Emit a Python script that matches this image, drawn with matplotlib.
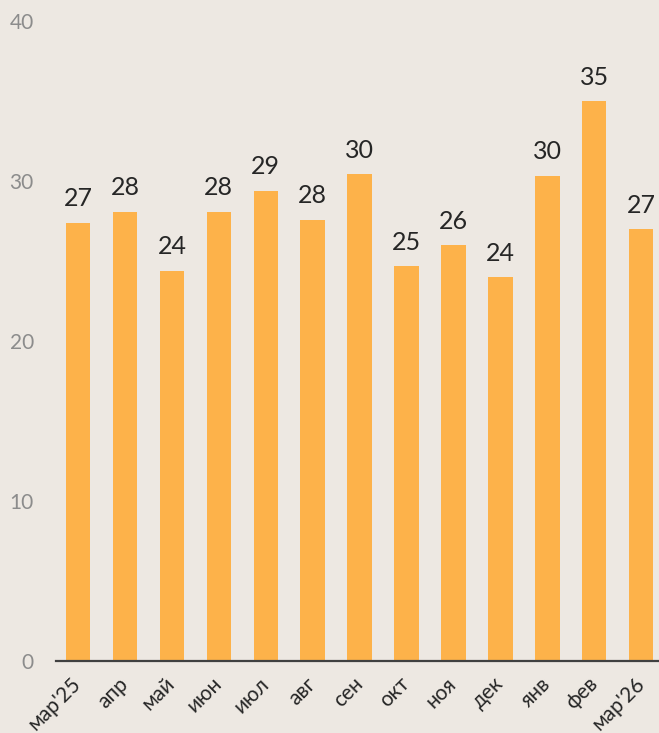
import matplotlib.pyplot as plt

# Monthly values, Mar 2025 - Mar 2026
months = ["мар'25", 'апр', 'май', 'июн', 'июл', 'авг', 'сен',
          'окт', 'ноя', 'дек', 'янв', 'фев', "мар'26"]
values = [27.4, 28.1, 24.4, 28.1, 29.4, 27.6, 30.45,
          24.7, 26.0, 24.0, 30.35, 35.0, 27.0]
y_ticks = [0, 10, 20, 30, 40]

bg = '#EDE8E2'
bar_color = '#FDB24A'
fonts = ['Lato', 'DejaVu Sans']

plt.rcParams['font.family'] = fonts

fig = plt.figure(figsize=(6.59, 7.33), dpi=100, facecolor=bg)
ax = fig.add_axes([0.085, 0.098, 0.915, 0.873], facecolor=bg)

x = range(len(months))
bars = ax.bar(x, values, width=0.52, color=bar_color, zorder=2)

# value labels above each bar
for b, v in zip(bars, values):
    ax.annotate(f'{v:.0f}', (b.get_x() + b.get_width() / 2, v),
                xytext=(0, 9), textcoords='offset points',
                ha='center', va='bottom', fontsize=18, color='#262626')

ax.set_xlim(-0.47, 12.38)
ax.set_ylim(0, 40)
ax.set_yticks(y_ticks)
ax.tick_params(axis='y', length=0, pad=16, labelsize=15, labelcolor='#8C8C8C')
ax.set_xticks(list(x))
ax.set_xticklabels(months, rotation=45, ha='right', va='center',
                   rotation_mode='anchor', fontsize=15, color='#262626')
ax.tick_params(axis='x', length=0, pad=14)

for s in ['top', 'right', 'left']:
    ax.spines[s].set_visible(False)
ax.spines['bottom'].set_color('#404040')
ax.spines['bottom'].set_linewidth(1.6)
ax.spines['bottom'].set_zorder(3)

plt.savefig('out.png', dpi=100, facecolor=bg)
